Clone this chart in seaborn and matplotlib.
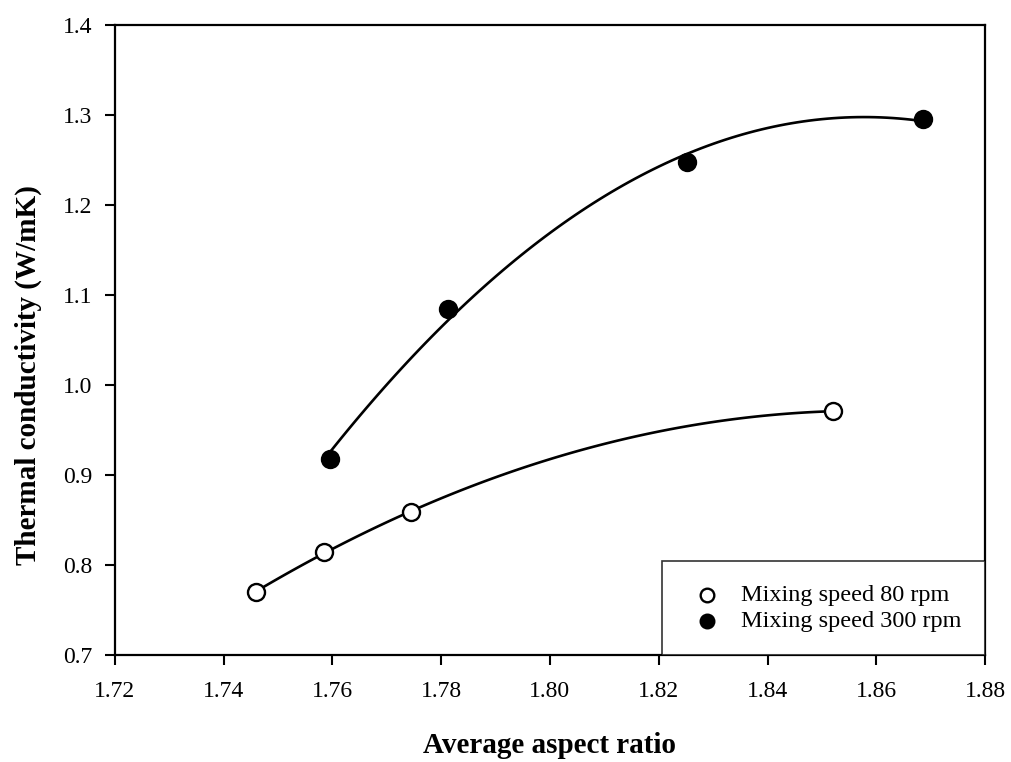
import numpy as np
import pandas as pd
import seaborn as sns
import matplotlib.pyplot as plt

# values
ar_80 = [1.746, 1.7585, 1.7745, 1.852]
tc_80 = [0.770, 0.815, 0.859, 0.971]
ar_300 = [1.7595, 1.7812, 1.8252, 1.8686]
tc_300 = [0.918, 1.085, 1.248, 1.296]

x_ticks = [1.72, 1.74, 1.76, 1.78, 1.80, 1.82, 1.84, 1.86, 1.88]
y_ticks = [0.7, 0.8, 0.9, 1.0, 1.1, 1.2, 1.3, 1.4]

df = pd.concat([
    pd.DataFrame({"ar": ar_80, "tc": tc_80, "Speed": "Mixing speed 80 rpm"}),
    pd.DataFrame({"ar": ar_300, "tc": tc_300, "Speed": "Mixing speed 300 rpm"}),
], ignore_index=True)

sns.set_style("ticks")
plt.rcParams['font.family'] = ['Liberation Serif', 'DejaVu Serif']
plt.rcParams['text.color'] = 'black'
plt.rcParams['axes.labelcolor'] = 'black'
plt.rcParams['xtick.color'] = 'black'
plt.rcParams['ytick.color'] = 'black'

fig = plt.figure(figsize=(10.11, 7.62), dpi=100)
ax = fig.add_axes([0.1137, 0.1404, 0.8606, 0.8266])

# 2nd order trend lines through each series
for spd in ["Mixing speed 80 rpm", "Mixing speed 300 rpm"]:
    sub = df[df["Speed"] == spd]
    sns.regplot(data=sub, x="ar", y="tc", order=2, ci=None, scatter=False,
                truncate=True, color="black", line_kws={"lw": 1.9}, ax=ax)

sub = df[df["Speed"] == "Mixing speed 80 rpm"]
ax.scatter(sub["ar"], sub["tc"], s=150, facecolor="white", edgecolor="black",
           linewidth=1.7, zorder=3, label="Mixing speed 80 rpm")
sub = df[df["Speed"] == "Mixing speed 300 rpm"]
ax.scatter(sub["ar"], sub["tc"], s=150, facecolor="black", edgecolor="black",
           linewidth=1.7, zorder=3, label="Mixing speed 300 rpm")

ax.set_xlim(1.72, 1.88)
ax.set_ylim(0.7, 1.4)
ax.set_xticks(x_ticks)
ax.set_xticklabels([f"{v:.2f}" for v in x_ticks])
ax.set_yticks(y_ticks)
ax.set_yticklabels([f"{v:.1f}" for v in y_ticks])
ax.tick_params(labelsize=17, width=1.5, length=7, color="black")
ax.tick_params(axis="x", pad=12)
ax.tick_params(axis="y", pad=9)
ax.minorticks_off()
for sp in ax.spines.values():
    sp.set_linewidth(1.6)
    sp.set_color("black")

ax.set_xlabel("Average aspect ratio", fontsize=21, fontweight="bold", labelpad=21)
ax.set_ylabel("Thermal conductivity (W/mK)", fontsize=21, fontweight="bold")
ax.yaxis.set_label_coords(-0.084, 0.444)

leg = ax.legend(loc="lower right", borderaxespad=0, fontsize=17.5, frameon=True,
                fancybox=False, edgecolor="black", borderpad=0.95, handletextpad=0.55,
                labelspacing=0.15, handlelength=1.75, markerscale=0.8)
leg.get_frame().set_linewidth(1.2)

plt.savefig("out.png", dpi=100)
